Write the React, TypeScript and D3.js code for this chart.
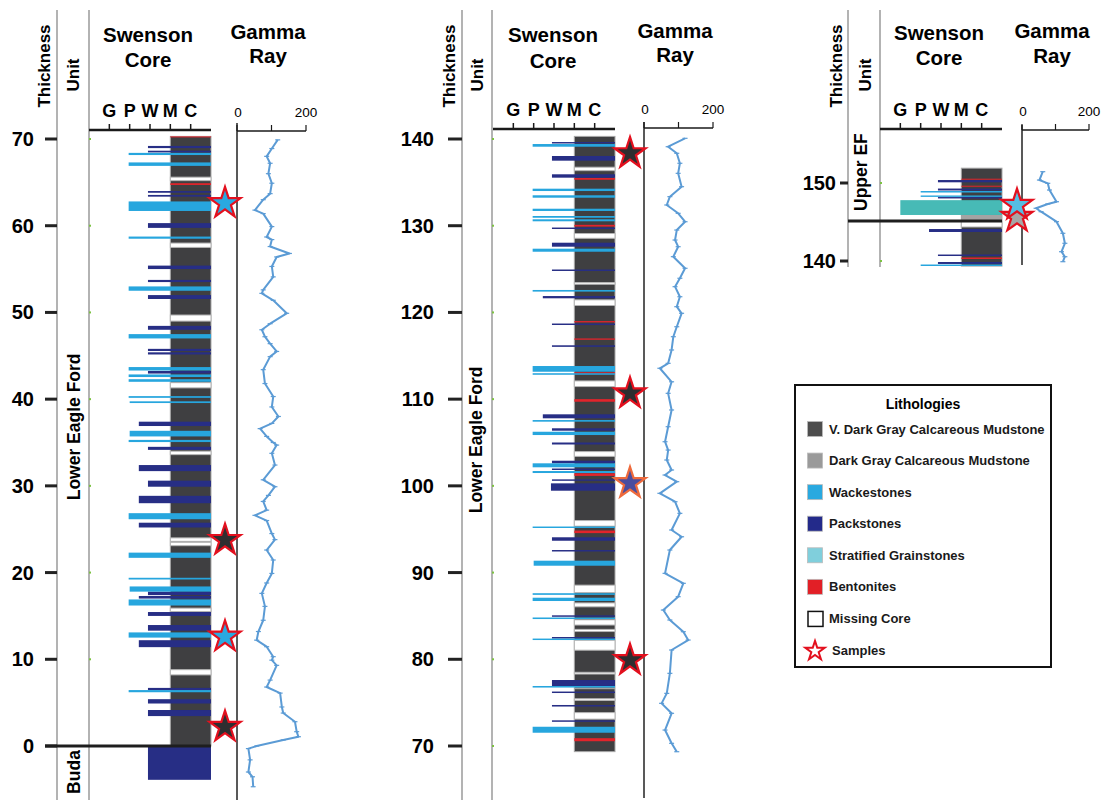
import React from 'react';
import * as d3 from 'd3';

// ---------------- DATA ----------------
const ticks1 = [0, 10, 20, 30, 40, 50, 60, 70];
const ticks2 = [70, 80, 90, 100, 110, 120, 130, 140];
const ticks3 = [140, 150];
const textureLabels = ['G', 'P', 'W', 'M', 'C'];
const grTickValues = [0, 100, 200];
const grTickLabels = ['0', '', '200'];

// Panel 1 (0-70)
const core1: [number, number] = [70.3, 0];
const gaps1 = [[65.6, 65.2], [58.0, 57.5], [49.7, 49.0], [41.9, 41.3], [34.0, 33.6], [24.0, 23.6], [23.5, 23.1], [15.9, 15.5], [8.8, 8.2]];
const bent1 = [[70.3, 70.2], [64.9, 64.7]];
const gray1: number[][] = [];
const grain1: number[][] = [];
const wack1 = [[68.4, 68.15, 1.95], [67.3, 66.9, 1.95], [62.8, 61.7, 1.95], [58.75, 58.5, 1.95], [53.0, 52.5, 1.95], [47.5, 47.0, 1.95], [43.7, 43.3, 1.95], [42.85, 42.55, 1.95], [42.3, 42.0, 1.95], [40.35, 40.15, 1.95], [39.75, 39.55, 2.0], [36.35, 35.7, 2.0], [35.3, 35.05, 1.95], [26.85, 26.15, 1.95], [22.3, 21.7, 1.95], [19.4, 19.2, 1.95], [18.4, 17.8, 2.0], [16.9, 16.2, 1.95], [13.1, 12.5, 1.95], [6.45, 6.2, 1.95]];
const pack1 = [[69.2, 68.95, 2.9], [68.65, 68.45, 2.9], [64.0, 63.8, 2.9], [63.55, 63.35, 2.9], [60.3, 59.75, 2.9], [55.4, 55.0, 2.9], [53.75, 53.5, 2.9], [52.0, 51.55, 2.9], [48.45, 48.0, 2.9], [45.8, 45.55, 2.9], [45.4, 45.15, 2.9], [43.25, 42.95, 2.9], [37.4, 36.9, 2.45], [34.5, 34.15, 2.9], [32.4, 31.7, 2.45], [30.6, 29.9, 2.9], [28.85, 28.0, 2.45], [25.75, 25.2, 2.45], [17.8, 17.4, 2.9], [17.3, 17.0, 2.45], [15.45, 15.0, 2.9], [13.95, 13.3, 2.9], [12.2, 11.4, 2.45], [6.7, 6.45, 2.9], [5.4, 4.9, 2.9], [4.15, 3.45, 2.9], [0, -3.9, 2.9]];
const boundaries1 = [0];
const units1: [string, number][] = [['Lower Eagle Ford', 36.8], ['Buda', -3.0]];
const samples1: [number, string][] = [[62.6, 'wack'], [23.75, 'mud'], [12.6, 'wack'], [2.2, 'mud']];
const gr1 = [[69.9, 118], [68.9, 101], [68.0, 86], [67.2, 96], [66.0, 91], [64.9, 101], [63.7, 96], [63.0, 76], [61.8, 52], [61.4, 76], [59.9, 101], [58.7, 86], [58.4, 101], [57.6, 96], [56.8, 152], [56.4, 115], [55.3, 101], [54.1, 105], [52.6, 76], [52.2, 72], [51.4, 105], [49.9, 144], [48.7, 96], [48.0, 72], [47.2, 81], [46.4, 96], [45.5, 115], [44.9, 96], [43.4, 76], [41.8, 81], [40.3, 105], [39.1, 101], [38.0, 120], [37.2, 101], [36.6, 67], [35.7, 86], [35.0, 105], [34.7, 115], [33.75, 101], [32.4, 110], [30.7, 76], [29.9, 110], [28.9, 91], [28.2, 76], [27.2, 86], [26.6, 52], [26.0, 86], [24.5, 101], [23.8, 110], [22.6, 86], [21.45, 105], [19.9, 101], [18.8, 86], [17.6, 72], [16.1, 81], [14.5, 76], [13.2, 62], [12.2, 57], [11.45, 86], [10.3, 105], [9.9, 101], [9.3, 115], [7.6, 96], [6.8, 86], [6.1, 125], [4.5, 130], [3.8, 134], [2.8, 168], [1.65, 173], [1.07, 178], [0.7, 134], [0.0, 57], [-0.3, 33], [-1.6, 38], [-3.0, 33], [-3.55, 45], [-4.7, 47]];

// Panel 2 (70-140)
const core2: [number, number] = [140.3, 69.35];
const gaps2 = [[136.75, 136.35], [129.1, 128.55], [123.45, 123.25], [121.45, 120.8], [112.1, 111.45], [103.95, 103.4], [96.0, 95.35], [88.55, 87.7], [86.5, 86.05], [84.55, 83.95], [83.45, 83.2], [82.2, 81.05], [78.5, 78.3], [75.45, 75.25], [73.85, 73.1]];
const bent2 = [[135.5, 135.3], [130.1, 129.9], [119.0, 118.85], [117.0, 116.85], [113.1, 112.95], [110.0, 109.7], [101.45, 101.15], [94.85, 94.55], [70.9, 70.55]];
const gray2 = [[76.75, 76.55]];
const grain2: number[][] = [];
const wack2 = [[139.42, 139.11, 1.95], [134.27, 134.0, 1.95], [133.51, 133.23, 1.95], [131.96, 131.7, 1.95], [131.12, 130.92, 1.95], [130.74, 130.51, 1.95], [127.35, 127.0, 1.95], [122.59, 122.4, 1.95], [113.82, 113.16, 1.95], [112.99, 112.81, 1.95], [107.59, 107.4, 1.95], [106.24, 105.86, 1.95], [102.6, 102.14, 1.95], [101.71, 101.48, 1.95], [95.31, 95.14, 1.95], [91.37, 90.79, 2.0], [87.62, 87.43, 1.95], [87.1, 86.72, 1.95], [84.82, 84.64, 1.95], [82.39, 82.22, 1.95], [76.92, 76.74, 1.95], [72.22, 71.53, 1.95]];
const pack2 = [[139.65, 139.48, 2.9], [138.04, 137.5, 2.9], [135.93, 135.54, 2.9], [129.79, 129.62, 2.9], [128.04, 127.58, 2.9], [124.95, 124.78, 2.9], [121.89, 121.63, 2.45], [118.72, 118.55, 2.9], [116.21, 116.03, 2.9], [108.25, 107.79, 2.45], [106.64, 106.36, 2.9], [105.0, 104.77, 2.9], [102.9, 102.6, 2.9], [102.0, 101.83, 2.9], [100.75, 100.58, 2.9], [100.29, 99.44, 2.85], [94.07, 93.67, 2.9], [92.6, 92.43, 2.9], [85.07, 84.9, 2.9], [82.57, 82.39, 2.9], [77.61, 76.92, 2.9], [76.28, 76.11, 2.9], [74.73, 74.55, 2.9], [72.96, 72.79, 2.9]];
const boundaries2: number[] = [];
const units2: [string, number][] = [['Lower Eagle Ford', 105.3]];
const samples2: [number, string][] = [[138.35, 'mud'], [110.67, 'mud'], [100.3, 'pack'], [79.9, 'mud']];
const gr2 = [[140.08, 119], [139.11, 70], [138.35, 95], [137.2, 104], [136.04, 99], [134.5, 109], [133.35, 75], [132.39, 66], [131.43, 99], [130.46, 119], [129.5, 95], [128.35, 90], [127.58, 99], [126.43, 85], [125.09, 119], [123.94, 104], [122.97, 90], [121.81, 104], [120.66, 95], [119.9, 109], [118.35, 95], [117.2, 85], [115.67, 80], [114.13, 70], [113.56, 46], [112.0, 80], [110.67, 70], [108.75, 80], [106.82, 70], [105.09, 61], [104.13, 70], [102.98, 66], [101.83, 80], [101.25, 61], [100.48, 95], [99.14, 46], [98.17, 90], [96.83, 104], [94.91, 80], [94.13, 109], [92.6, 75], [89.91, 61], [88.76, 114], [87.22, 99], [85.68, 56], [84.53, 75], [83.18, 114], [82.22, 128], [81.07, 80], [78.38, 75], [76.07, 66], [74.92, 51], [73.77, 80], [71.84, 61], [70.31, 80], [69.34, 95]];

// Panel 3 (140-152)
const core3: [number, number] = [151.9, 139.35];
const gaps3 = [[145.06, 144.36]];
const bent3 = [[150.55, 150.45], [149.65, 149.55], [140.45, 140.26]];
const gray3 = [[145.9, 145.13]];
const grain3 = [[147.8, 145.9, 1.0]];
const wack3 = [[148.97, 148.78, 2.0], [148.4, 148.22, 2.0], [139.55, 139.36, 2.0]];
const pack3 = [[150.38, 150.09, 2.85], [149.29, 149.04, 2.85], [148.2, 148.02, 2.85], [144.1, 143.72, 2.41], [140.83, 140.64, 2.85], [139.87, 139.62, 2.85]];
const boundaries3 = [145.13];
const units3: [string, number][] = [['Upper EF', 151.4]];
const samples3: [number, string][] = [[145.64, 'gray'], [147.18, 'grainblue']];
const gr3 = [[151.45, 62], [150.38, 52], [149.96, 77], [149.1, 82], [147.6, 103], [147.31, 77], [146.76, 42], [146.32, 57], [145.04, 103], [143.55, 122], [142.27, 128], [141.19, 118], [140.55, 128], [139.91, 122]];

// Legend
const legendLabels = ['V. Dark Gray Calcareous Mudstone', 'Dark Gray Calcareous Mudstone', 'Wackestones', 'Packstones', 'Stratified Grainstones', 'Bentonites', 'Missing Core', 'Samples'];
const legendKinds = ['mud', 'gray', 'wack', 'pack', 'strat', 'bent', 'missing', 'sample'];

// ---------------- STYLE ----------------
const FONT = '"Liberation Sans", Arial, Helvetica, sans-serif';
const C = {
  mud: '#3f3f41', gray: '#a3a3a3', wack: '#27a6de', pack: '#272e85', grain: '#47bab6',
  bent: '#e3242b', gr: '#5b9bd5', axis: '#1a1a1a', guide: '#9a9a9a',
};
const LEG = { mud: '#4d4d4d', gray: '#9a9a9a', wack: '#29a9e0', pack: '#232a8a', strat: '#80cfdc', bent: '#e21f26' };
const SAMPLE_FILL: Record<string, string> = { mud: '#2e2e30', wack: '#29a9e0', pack: '#4a4d9f', gray: '#a6a6a6', grainblue: '#56bde3' };
const SAMPLE_STROKE: Record<string, string> = { pack: '#ee6a3c' };

const starPath = d3.symbol().type(d3.symbolStar).size(300)() as string;
const legendStar = d3.symbol().type(d3.symbolStar).size(115)() as string;

interface Cfg {
  thickX: number; unitX: number; texL: number; texR: number; grL: number; grR: number;
  v0: number; p0: number; v1: number; p1: number;
  lineTop: number; lineBottom: number; grTop: number; grBottom: number;
  starX: number; labelRight: number; dashL: number; boundaryL: number;
  thickHdrX: number; unitHdrX: number; swX: number; swY: number; coreY: number;
  gX: number; gY: number; rayY: number; texAxisY: number; grAxisY: number; unitLabelX: number;
}

const cfg1: Cfg = { thickX: 57, unitX: 89, texL: 89, texR: 211, grL: 237, grR: 306, v0: 70, p0: 139, v1: 0, p1: 746, lineTop: 10, lineBottom: 800, grTop: 123, grBottom: 800, starX: 225, labelRight: 34, dashL: 45, boundaryL: 45, thickHdrX: 50, unitHdrX: 79, swX: 148, swY: 42, coreY: 67, gX: 268, gY: 39, rayY: 63, texAxisY: 130, grAxisY: 131, unitLabelX: 80 };
const cfg2: Cfg = { thickX: 462, unitX: 492, texL: 493, texR: 615, grL: 644, grR: 713, v0: 140, p0: 139, v1: 70, p1: 746, lineTop: 10, lineBottom: 800, grTop: 122, grBottom: 798, starX: 630, labelRight: 434, dashL: 448, boundaryL: 448, thickHdrX: 455, unitHdrX: 483, swX: 553, swY: 42, coreY: 68, gX: 675, gY: 38, rayY: 62, texAxisY: 129, grAxisY: 128, unitLabelX: 482 };
const cfg3: Cfg = { thickX: 848, unitX: 880, texL: 880, texR: 1002, grL: 1022, grR: 1089, v0: 150, p0: 183, v1: 140, p1: 261, lineTop: 10, lineBottom: 267, grTop: 125, grBottom: 265, starX: 1017, labelRight: 836, dashL: 840, boundaryL: 848, thickHdrX: 842, unitHdrX: 871, swX: 939, swY: 40, coreY: 65, gX: 1052, gY: 38, rayY: 63, texAxisY: 129, grAxisY: 130, unitLabelX: 867 };

interface PanelData {
  ticks: number[]; core: [number, number]; gaps: number[][]; bent: number[][]; gray: number[][];
  grain: number[][]; wack: number[][]; pack: number[][]; boundaries: number[];
  units: [string, number][]; samples: [number, string][]; gr: number[][];
}

function Panel({ c, d }: { c: Cfg; d: PanelData }) {
  const y = d3.scaleLinear().domain([c.v0, c.v1]).range([c.p0, c.p1]);
  const tx = d3.scaleLinear().domain([0, 6]).range([c.texL, c.texR]);
  const gx = d3.scaleLinear().domain([0, 200]).range([c.grL, c.grR]);
  const line = d3.line<number[]>().x((p) => gx(p[1])).y((p) => y(p[0]));
  const coreL = tx(4);
  const coreR = tx(6);
  const rect = (top: number, base: number, x0: number, key: string, fill: string, extra: any = {}) => (
    <rect key={key} x={x0} y={y(top)} width={coreR - x0} height={Math.max(1, y(base) - y(top))} fill={fill} {...extra} />
  );
  return (
    <g>
      {/* guide lines */}
      <line x1={c.thickX} x2={c.thickX} y1={c.lineTop} y2={c.lineBottom} stroke={C.guide} strokeWidth={1.5} />
      <line x1={c.unitX} x2={c.unitX} y1={c.lineTop} y2={c.lineBottom} stroke={C.guide} strokeWidth={1.5} />
      <line x1={c.grL} x2={c.grL} y1={c.grTop} y2={c.grBottom} stroke="#222" strokeWidth={1.5} />
      {/* headers */}
      <text transform={`translate(${c.thickHdrX},66) rotate(-90)`} textAnchor="middle" fontFamily={FONT} fontWeight="bold" fontSize={17}>Thickness</text>
      <text transform={`translate(${c.unitHdrX},75) rotate(-90)`} textAnchor="middle" fontFamily={FONT} fontWeight="bold" fontSize={17}>Unit</text>
      <text x={c.swX} y={c.swY} textAnchor="middle" fontFamily={FONT} fontWeight="bold" fontSize={20.5}>Swenson</text>
      <text x={c.swX} y={c.coreY} textAnchor="middle" fontFamily={FONT} fontWeight="bold" fontSize={20.5}>Core</text>
      <text x={c.gX} y={c.gY} textAnchor="middle" fontFamily={FONT} fontWeight="bold" fontSize={20.5}>Gamma</text>
      <text x={c.gX} y={c.rayY} textAnchor="middle" fontFamily={FONT} fontWeight="bold" fontSize={20.5}>Ray</text>
      {/* texture axis */}
      <line x1={c.texL} x2={c.texR} y1={c.texAxisY} y2={c.texAxisY} stroke={C.axis} strokeWidth={2.5} />
      {textureLabels.map((t, i) => (
        <g key={t}>
          <line x1={tx(i + 1)} x2={tx(i + 1)} y1={c.texAxisY} y2={c.texAxisY - 6} stroke={C.axis} strokeWidth={1.5} />
          <text x={tx(i + 1)} y={c.texAxisY - 13} textAnchor="middle" fontFamily={FONT} fontWeight="bold" fontSize={18}>{t}</text>
        </g>
      ))}
      {/* GR axis */}
      <line x1={c.grL} x2={c.grR} y1={c.grAxisY} y2={c.grAxisY} stroke={C.axis} strokeWidth={1.5} />
      {grTickValues.map((v, i) => (
        <g key={v}>
          <line x1={gx(v)} x2={gx(v)} y1={c.grAxisY} y2={c.grAxisY - 6} stroke={C.axis} strokeWidth={1.2} />
          <text x={gx(v) + (i === 0 ? 1 : 0)} y={c.grAxisY - 14} textAnchor="middle" fontFamily={FONT} fontSize={13.5}>{grTickLabels[i]}</text>
        </g>
      ))}
      {/* thickness ticks */}
      {d.ticks.map((t) => (
        <g key={t}>
          <line x1={c.dashL} x2={c.thickX} y1={y(t)} y2={y(t)} stroke="#222" strokeWidth={3} />
          <text x={c.labelRight} y={y(t) + 7} textAnchor="end" fontFamily={FONT} fontWeight="bold" fontSize={20}>{t}</text>
          <rect x={c.unitX} y={y(t) - 1} width={2} height={2} fill="#7cc242" />
        </g>
      ))}
      {/* unit labels */}
      {d.units.map(([name, v]) => (
        <text key={name} transform={`translate(${c.unitLabelX},${y(v)}) rotate(-90)`} textAnchor="middle" fontFamily={FONT} fontWeight="bold" fontSize={17.5}>{name}</text>
      ))}
      {/* core column */}
      <rect x={coreL} y={y(d.core[0])} width={coreR - coreL} height={y(d.core[1]) - y(d.core[0])} fill={C.mud} stroke="#a8a8a8" strokeWidth={1} />
      {d.gaps.map((g, i) => rect(g[0], g[1], coreL, 'g' + i, '#ffffff', { stroke: '#b5b5b5', strokeWidth: 1 }))}
      {d.gray.map((g, i) => rect(g[0], g[1], coreL, 'gr' + i, C.gray))}
      {d.bent.map((g, i) => rect(g[0], g[1], coreL, 'b' + i, C.bent))}
      {d.grain.map((g, i) => rect(g[0], g[1], tx(g[2]), 'st' + i, C.grain))}
      {d.pack.map((g, i) => rect(g[0], g[1], tx(g[2]), 'p' + i, C.pack))}
      {d.wack.map((g, i) => rect(g[0], g[1], tx(g[2]), 'w' + i, C.wack))}
      {d.boundaries.map((b) => (
        <line key={b} x1={c.boundaryL} x2={coreR} y1={y(b)} y2={y(b)} stroke="#1e1e1e" strokeWidth={3} />
      ))}
      {/* gamma ray curve with small vertex ticks */}
      <path d={line(d.gr) as string} fill="none" stroke={C.gr} strokeWidth={2} strokeLinejoin="round" />
      {d.gr.map((p, i) => (
        <line key={'t' + i} x1={gx(p[1]) - 2.5} x2={gx(p[1]) + 2.5} y1={y(p[0])} y2={y(p[0])} stroke={C.gr} strokeWidth={1.2} />
      ))}
      {/* samples */}
      {d.samples.map(([v, k], i) => (
        <path key={i} d={starPath} transform={`translate(${c.starX},${y(v)})`} fill={SAMPLE_FILL[k]} stroke={SAMPLE_STROKE[k] || '#e3101e'} strokeWidth={2.2} strokeLinejoin="miter" />
      ))}
    </g>
  );
}

function Legend() {
  const x0 = 795, y0 = 385, w = 256, h = 282;
  const rowY = d3.scaleLinear().domain([0, 7]).range([429, 650]);
  return (
    <g>
      <rect x={x0} y={y0} width={w} height={h} fill="#fff" stroke="#111" strokeWidth={2} />
      <text x={923} y={409} textAnchor="middle" fontFamily={FONT} fontWeight="bold" fontSize={14}>Lithologies</text>
      {legendLabels.map((lab, i) => {
        const k = legendKinds[i];
        const cy = rowY(i);
        let sw: React.ReactNode;
        if (k === 'sample') {
          sw = <path d={legendStar} transform={`translate(815,${cy + 1})`} fill="#fff" stroke="#e3101e" strokeWidth={2} />;
        } else if (k === 'missing') {
          sw = <rect x={808} y={cy - 7} width={15} height={15} fill="#fff" stroke="#111" strokeWidth={1.5} />;
        } else {
          sw = <rect x={807.5} y={cy - 7.5} width={15} height={15} fill={(LEG as any)[k]} stroke="#bbb" strokeWidth={0.8} />;
        }
        return (
          <g key={lab}>
            {sw}
            <text x={k === 'sample' ? 832 : 829} y={cy + 4.5} fontFamily={FONT} fontWeight="bold" fontSize={13} fill="#1a1a1a">{lab}</text>
          </g>
        );
      })}
    </g>
  );
}

export default function App() {
  const d1: PanelData = { ticks: ticks1, core: core1, gaps: gaps1, bent: bent1, gray: gray1, grain: grain1, wack: wack1, pack: pack1, boundaries: boundaries1, units: units1, samples: samples1, gr: gr1 };
  const d2: PanelData = { ticks: ticks2, core: core2, gaps: gaps2, bent: bent2, gray: gray2, grain: grain2, wack: wack2, pack: pack2, boundaries: boundaries2, units: units2, samples: samples2, gr: gr2 };
  const d3p: PanelData = { ticks: ticks3, core: core3, gaps: gaps3, bent: bent3, gray: gray3, grain: grain3, wack: wack3, pack: pack3, boundaries: boundaries3, units: units3, samples: samples3, gr: gr3 };
  return (
    <svg width={1110} height={803} style={{ position: 'absolute', left: 0, top: 0, background: '#fff' }}>
      <rect x={0} y={0} width={1110} height={803} fill="#fff" />
      <Panel c={cfg1} d={d1} />
      <Panel c={cfg2} d={d2} />
      <Panel c={cfg3} d={d3p} />
      <Legend />
    </svg>
  );
}
